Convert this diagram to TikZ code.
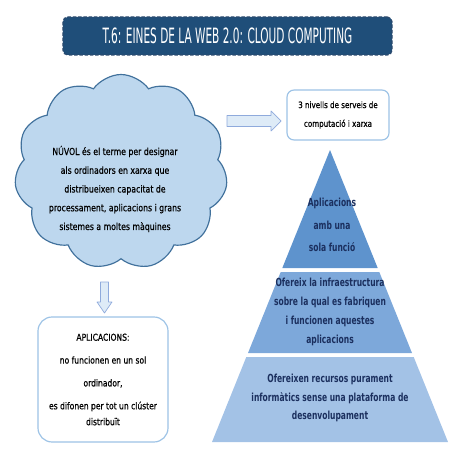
\documentclass[tikz,border=0pt]{standalone}
\usepackage{fontspec}
\setmainfont{DejaVu Sans}[FakeStretch=0.8, FakeBold=0.6]
\newfontfamily\titlefont{DejaVu Sans}[FakeStretch=0.5]
\newfontfamily\pyrfont{DejaVu Sans}[FakeStretch=0.68]
\usepackage{tikz}
\usetikzlibrary{shapes.symbols}
\definecolor{titleblue}{HTML}{1F4E79}
\definecolor{titleline}{HTML}{2B4A6E}
\definecolor{cloudfill}{HTML}{BDD7EE}
\definecolor{cloudline}{HTML}{41719C}
\definecolor{boxline}{HTML}{9DC3E6}
\definecolor{arrowfill}{HTML}{DEEBF7}
\definecolor{arrowline}{HTML}{8FAADC}
\definecolor{layerone}{HTML}{5E93CD}
\definecolor{layertwo}{HTML}{7DA8DA}
\definecolor{layerthree}{HTML}{A3C2E6}
\definecolor{pyrtext}{HTML}{1B2F5E}

\begin{document}
\begin{tikzpicture}[x=0.03cm,y=-0.03cm,
  every node/.style={font=\fontsize{8.3}{16}\selectfont, align=center, inner sep=0pt},
  box/.style={draw=boxline, line width=1pt, fill=white},
  blockarrow/.style={draw=arrowline, fill=arrowfill, line width=0.6pt, line join=round},
  pyrlabel/.style={text=pyrtext, font=\pyrfont\fontsize{9.5}{16}\selectfont\bfseries}]
\useasboundingbox (0,0) rectangle (453,453);

% title
\node[fill=titleblue, draw=titleline, dash pattern=on 3pt off 1.5pt, line width=1pt,
  rounded corners=4pt, minimum width=9.87cm, minimum height=1.14cm, text=white]
  (title) at (227.5,36) {\titlefont\fontsize{18}{18}\selectfont T.6: EINES DE LA WEB 2.0: CLOUD COMPUTING};

% cloud
\node[cloud, cloud puffs=11, cloud puff arc=110, cloud ignores aspect, draw=cloudline,
  fill=cloudfill, line width=1pt, minimum width=6.39cm, minimum height=5.85cm] (nuvol) at (121,172) {};
\node (nuvoltext) at (115,189)
  {NÚVOL és el terme per designar\\als ordinadors en xarxa que\\distribueixen capacitat de\\processament, aplicacions i grans\\sistemes a moltes màquines};

% block arrows
\filldraw[blockarrow] (227,115.5) -- (271,115.5) -- (271,111) -- (281,121) -- (271,131)
  -- (271,126.5) -- (227,126.5) -- cycle;
\filldraw[blockarrow] (100.5,282) -- (108.5,282) -- (108.5,302) -- (112,302) -- (104.5,313)
  -- (97,302) -- (100.5,302) -- cycle;

% boxes
\node[box, rounded corners=6pt, minimum width=3.06cm, minimum height=1.5cm,
  font=\fontsize{7.6}{16}\selectfont] (nivells) at (338,115)
  {3 nivells de serveis de\\computació i xarxa};
\node[box, rounded corners=12pt, minimum width=3.9cm, minimum height=3.75cm,
  font=\fontsize{8.1}{19.5}\selectfont] (aplicacions) at (103,379.5)
  {APLICACIONS:\\no funcionen en un sol\\ordinador,\\es difonen per tot un clúster\\[-5.9pt]distribuït};

% pyramid
\fill[layerone] (330,150) -- (377.7,268) -- (282.3,268) -- cycle;
\fill[layertwo] (280.7,272) -- (379.3,272) -- (412,353) -- (248,353) -- cycle;
\fill[layerthree] (246.3,357) -- (413.7,357) -- (448,442) -- (212,442) -- cycle;

\node[pyrlabel, font=\pyrfont\fontsize{9.5}{19.5}\selectfont\bfseries] (saas) at (332,225) {Aplicacions\\amb una\\sola funció};
\node[pyrlabel] (paas) at (330,312) {Ofereix la infraestructura\\sobre la qual es fabriquen\\i funcionen aquestes\\aplicacions};
\node[pyrlabel] (iaas) at (330,398) {Ofereixen recursos purament\\informàtics sense una plataforma de\\desenvolupament};

\end{tikzpicture}
\end{document}
